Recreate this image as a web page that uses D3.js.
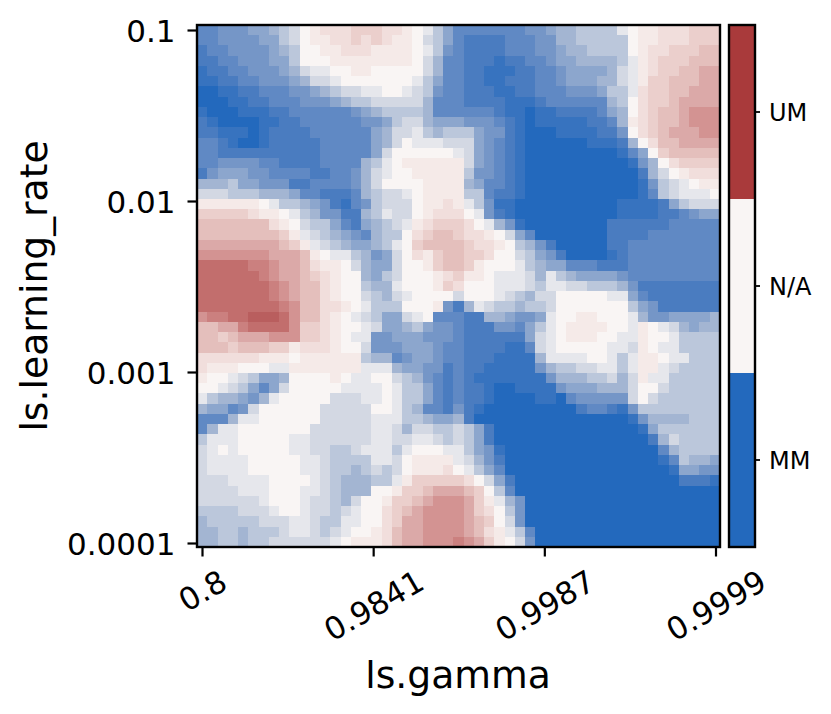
<!DOCTYPE html>
<html><head><meta charset="utf-8">
<style>html,body{margin:0;padding:0;background:#fff}svg{display:block}text{font-family:"DejaVu Sans",sans-serif;fill:#000}</style>
<script src="https://cdn.jsdelivr.net/npm/d3@7/dist/d3.min.js"></script>
</head><body><svg id="c" width="831" height="714"></svg>
<script>
const gammaTicks=["0.8","0.9841","0.9987","0.9999"];
const lrTicks=["0.1","0.01","0.001","0.0001"];
const legendCats=["MM","N/A","UM"];
const legendColors=["#2369bd","#f9f5f4","#a93a3b"];
const rampStops=[-10,-8,-6,-4,-2,0,2,4,5,6,7,8,9,10];
const rampColors=["#2369bd","#4a7cc0","#7596c7","#a3b5d2","#d3d8e3","#f9f5f4","#f1dedc","#e4bfbc","#dba9a8","#d39392","#cb807f","#c26e6d","#b95e5e","#a93a3b"];
const xTitle="ls.gamma", yTitle="ls.learning_rate";
// one row per learning-rate step, top to bottom; -10 = MM, 0 = N/A, 10 = UM
const heat=[
[-7,-7,-6,-6,-6,-5,-5,-4,-3,-2,0,1,2,2,2,3,3,3,2,2,1,0,-1,-3,-5,-7,-7,-7,-7,-7,-7,-7,-6,-6,-5,-4,-4,-3,-3,-3,-3,-1,0,1,1,2,2,2,3,3,3],
[-7,-7,-6,-6,-6,-6,-5,-5,-3,-2,0,1,1,2,2,3,2,3,2,1,1,0,-2,-3,-5,-7,-8,-8,-8,-8,-7,-7,-7,-6,-6,-4,-4,-3,-3,-3,-3,-3,0,1,1,2,2,2,3,3,3],
[-8,-7,-7,-6,-6,-6,-6,-5,-4,-3,0,0,1,1,2,2,2,1,1,1,1,0,-1,-3,-6,-7,-8,-8,-8,-8,-7,-7,-7,-6,-6,-5,-4,-4,-3,-3,-3,-3,0,1,2,2,3,3,3,4,4],
[-8,-8,-7,-7,-6,-6,-6,-5,-5,-3,0,0,0,1,1,1,1,1,1,1,1,0,-2,-4,-7,-7,-8,-8,-8,-9,-8,-8,-7,-7,-6,-5,-5,-4,-4,-4,-4,-3,-1,1,2,3,3,3,4,4,4],
[-9,-8,-8,-7,-7,-6,-6,-6,-5,-4,-2,-1,-1,0,0,1,1,0,0,0,0,0,-2,-4,-7,-7,-8,-8,-9,-9,-9,-8,-8,-7,-7,-6,-5,-5,-5,-5,-4,-2,-1,1,2,3,3,4,4,5,5],
[-9,-9,-8,-8,-7,-7,-6,-6,-6,-5,-4,-2,-2,-1,0,0,0,0,0,0,0,-1,-3,-5,-7,-7,-8,-8,-9,-9,-8,-8,-8,-7,-7,-6,-5,-5,-5,-4,-4,-2,-1,1,3,3,4,4,4,5,5],
[-10,-10,-9,-9,-8,-8,-7,-7,-7,-6,-6,-5,-4,-3,-2,-2,-1,-1,0,0,-1,-2,-3,-6,-7,-7,-8,-8,-8,-9,-9,-8,-8,-7,-7,-7,-6,-6,-6,-5,-3,-3,-1,2,3,3,4,4,5,5,5],
[-10,-10,-10,-9,-9,-8,-8,-7,-7,-7,-6,-6,-6,-5,-4,-3,-3,-2,-2,-2,-2,-2,-4,-7,-7,-7,-8,-8,-8,-8,-9,-9,-9,-8,-7,-7,-7,-7,-7,-7,-4,-3,0,2,3,3,4,5,5,5,5],
[-9,-10,-10,-10,-9,-9,-9,-8,-8,-7,-7,-7,-7,-7,-7,-6,-5,-4,-3,-3,-3,-3,-4,-7,-7,-7,-7,-7,-7,-8,-9,-9,-10,-9,-9,-8,-8,-8,-8,-7,-5,-4,0,2,3,4,4,5,6,6,6],
[-8,-9,-10,-10,-10,-10,-9,-9,-8,-8,-7,-7,-7,-7,-7,-7,-6,-6,-5,-3,-2,-2,-4,-5,-5,-5,-6,-6,-6,-7,-8,-9,-10,-9,-9,-9,-9,-9,-8,-8,-7,-4,1,2,3,4,4,5,6,6,6],
[-8,-8,-9,-9,-9,-10,-9,-8,-8,-8,-8,-7,-7,-7,-7,-7,-7,-5,-4,-2,-2,-1,-3,-4,-3,-3,-3,-5,-6,-6,-8,-9,-10,-10,-10,-9,-9,-9,-9,-8,-8,-6,0,2,3,4,5,5,5,6,6],
[-7,-7,-8,-9,-10,-10,-9,-8,-8,-8,-8,-8,-7,-7,-7,-7,-7,-5,-4,-2,0,-1,-1,-1,-2,-2,-2,-5,-6,-7,-8,-9,-10,-10,-10,-10,-10,-10,-9,-9,-9,-8,-4,0,2,4,4,5,5,5,5],
[-7,-7,-8,-8,-8,-8,-8,-8,-8,-8,-8,-8,-7,-7,-7,-7,-7,-5,-2,0,0,0,0,0,0,-1,-2,-5,-6,-7,-8,-9,-10,-10,-10,-10,-10,-10,-10,-10,-10,-9,-7,-5,0,3,4,4,4,4,4],
[-7,-7,-6,-6,-6,-6,-7,-7,-8,-8,-8,-8,-7,-7,-7,-7,-4,-3,-1,0,1,1,1,1,1,1,-2,-5,-6,-7,-8,-9,-10,-10,-10,-10,-10,-10,-10,-10,-10,-10,-9,-6,-4,0,2,3,3,3,3],
[-8,-6,-5,-5,-5,-6,-6,-7,-7,-7,-7,-8,-8,-7,-7,-6,-4,-2,-1,0,0,1,1,1,1,1,-3,-6,-6,-7,-8,-9,-10,-10,-10,-10,-10,-10,-10,-10,-10,-10,-10,-8,-4,-2,0,1,2,2,2],
[-4,-4,-4,-3,-5,-5,-6,-6,-6,-8,-8,-7,-7,-7,-7,-6,-4,-2,0,0,0,0,1,1,1,1,-4,-5,-7,-7,-8,-9,-10,-10,-10,-10,-10,-10,-10,-10,-10,-10,-10,-9,-6,-3,-2,-1,0,1,1],
[-2,-2,-2,-3,-3,-3,-4,-4,-4,-5,-7,-7,-8,-8,-8,-7,-4,-3,-2,-2,-1,0,1,1,1,1,-3,-3,-7,-8,-8,-9,-10,-10,-10,-10,-10,-10,-10,-10,-10,-10,-10,-9,-7,-3,-2,-1,-1,-1,0],
[1,1,1,1,1,1,0,-1,-3,-3,-4,-5,-6,-8,-9,-7,-6,-3,-2,-2,-2,0,1,1,2,1,-1,-3,-6,-9,-9,-10,-10,-10,-10,-10,-10,-10,-10,-10,-10,-9,-9,-9,-9,-8,-5,-3,-2,-2,-2],
[3,3,3,3,3,2,1,1,0,-1,-3,-4,-6,-6,-8,-8,-4,-3,-1,-2,-2,0,1,2,2,2,0,-1,-6,-8,-9,-10,-10,-10,-10,-10,-10,-10,-10,-10,-10,-9,-9,-9,-9,-8,-8,-7,-6,-5,-5],
[4,4,4,4,4,4,4,2,1,0,-2,-3,-3,-5,-7,-8,-5,-4,-3,-2,-1,1,2,3,3,3,2,0,-1,-4,-6,-9,-10,-10,-10,-10,-10,-10,-10,-10,-8,-8,-8,-8,-8,-8,-7,-7,-7,-7,-7],
[4,4,4,4,4,4,4,4,3,1,-1,-2,-3,-4,-5,-6,-7,-4,-3,-3,0,2,3,4,4,3,2,2,1,0,-2,-5,-7,-10,-10,-10,-10,-10,-10,-10,-8,-8,-8,-8,-7,-7,-7,-7,-7,-7,-7],
[5,5,5,5,5,5,5,5,4,3,1,-1,-2,-3,-4,-5,-5,-4,-3,-1,0,3,4,4,4,4,3,2,2,1,0,-3,-4,-6,-8,-10,-10,-10,-10,-10,-8,-8,-7,-7,-7,-7,-7,-7,-7,-7,-7],
[6,6,6,6,6,6,6,5,5,5,4,1,0,-1,-1,-3,-4,-6,-5,-2,0,2,1,3,4,4,3,3,2,0,0,-2,-3,-5,-6,-8,-10,-10,-10,-10,-9,-8,-7,-7,-7,-7,-7,-7,-7,-7,-7],
[8,8,8,8,8,7,7,6,5,5,4,2,1,1,0,-2,-4,-5,-5,-2,0,0,1,3,4,4,3,1,0,0,0,-1,-3,-4,-5,-5,-7,-7,-7,-8,-8,-8,-7,-7,-7,-7,-7,-7,-7,-7,-7],
[8,8,8,8,8,8,7,6,5,5,4,3,2,1,0,0,-4,-5,-3,-2,0,0,0,1,2,3,1,1,0,-1,-1,-1,-2,-4,-1,-3,-4,-5,-5,-5,-5,-6,-7,-7,-7,-7,-7,-7,-7,-7,-7],
[8,8,8,8,8,8,8,7,6,5,4,4,2,1,0,0,-3,-4,-4,-1,0,0,0,1,3,2,0,0,0,-1,-1,-1,-2,-3,-1,-1,-2,-2,-3,-3,-3,-4,-6,-8,-8,-8,-8,-8,-8,-8,-8],
[8,8,8,8,8,8,8,7,6,5,4,4,2,1,0,0,-2,-3,-4,-2,-1,0,0,0,0,-2,0,0,0,-1,-2,-3,-4,-2,-2,0,0,0,0,0,-1,-1,-5,-7,-8,-8,-8,-8,-8,-8,-8],
[8,8,8,8,8,8,8,8,7,6,4,4,2,2,1,0,-1,-3,-3,-3,0,0,0,1,-6,-8,-4,-1,-2,-3,-3,-4,-3,-3,-2,0,0,0,0,0,0,0,-3,-5,-6,-8,-8,-8,-8,-8,-8],
[6,7,7,8,8,9,9,9,8,6,4,4,2,1,0,-1,-2,-3,-5,-5,-2,-1,0,-7,-7,-7,-8,-8,-4,-4,-5,-6,-6,-5,-1,0,0,1,1,0,0,0,-1,-4,-6,-6,-5,-5,-5,-5,-4],
[4,4,5,5,7,8,8,8,8,6,3,3,2,1,0,0,-1,-2,-5,-5,-4,-3,-5,-6,-6,-7,-8,-8,-8,-6,-6,-7,-5,-3,-1,0,1,1,1,1,0,0,-1,1,0,-1,-2,-4,-5,-4,-4],
[4,4,3,4,5,5,5,6,6,6,3,3,2,1,0,-1,-1,-6,-6,-5,-5,-5,-6,-6,-6,-7,-8,-8,-8,-8,-8,-8,-5,-2,-1,0,1,1,1,0,0,-1,-1,1,0,0,-1,-3,-3,-3,-3],
[4,4,4,3,4,4,4,3,3,1,2,2,2,1,0,0,-2,-6,-6,-6,-5,-5,-5,-6,-7,-7,-8,-8,-8,-8,-9,-9,-7,-2,-1,0,0,0,0,0,-1,-1,-2,1,0,-1,-1,-3,-3,-3,-3],
[2,2,2,2,2,2,1,1,1,0,1,1,1,1,1,1,-3,-4,-4,-7,-6,-5,-5,-6,-7,-7,-8,-8,-8,-9,-9,-9,-9,-4,-1,-1,-1,-1,0,0,-1,-3,-1,1,1,0,-1,-1,-3,-3,-3],
[2,1,1,1,0,0,0,-1,-1,1,1,1,1,1,1,1,-1,-1,-1,-4,-5,-5,-6,-6,-8,-7,-8,-8,-9,-9,-9,-9,-9,-6,-4,-3,-3,-2,-2,-1,-1,-3,-1,1,1,-1,-2,-3,-3,-3,-3],
[1,0,0,-1,-2,-3,-5,-5,-4,0,0,0,0,1,0,-1,-1,0,0,-2,-3,-4,-6,-7,-8,-7,-8,-9,-9,-9,-9,-9,-9,-9,-6,-4,-4,-4,-3,-3,-2,-4,-2,1,-1,-1,-3,-3,-3,-3,-3],
[0,0,-1,-2,-3,-5,-7,-5,-2,0,0,0,0,0,-1,-1,-1,-1,0,-1,-3,-3,-5,-7,-8,-7,-8,-8,-9,-10,-10,-9,-9,-9,-9,-6,-5,-5,-5,-4,-4,-4,-2,0,0,-2,-3,-3,-3,-3,-3],
[-1,-3,-4,-4,-5,-6,-4,-1,0,0,0,0,0,-2,-2,-2,-1,-1,0,-1,-3,-3,-5,-7,-8,-7,-8,-8,-9,-10,-10,-10,-10,-9,-9,-10,-7,-6,-6,-6,-6,-6,-2,0,-2,-3,-3,-3,-3,-3,-3],
[-4,-5,-5,-7,-6,-2,0,0,0,0,0,0,-2,-2,-2,-2,-2,0,0,-1,-3,-4,-7,-7,-8,-6,-8,-9,-10,-10,-10,-10,-10,-10,-10,-10,-10,-8,-7,-7,-8,-9,-6,-3,-3,-3,-3,-3,-3,-3,-3],
[-7,-7,-7,-4,-1,-1,0,0,0,0,0,0,-2,-2,-2,-2,-2,-1,-1,-1,-3,-3,-4,-5,-5,-4,-8,-10,-10,-10,-10,-10,-10,-10,-10,-10,-10,-10,-10,-10,-10,-10,-9,-6,-4,-4,-4,-4,-3,-3,-3],
[-7,-4,-1,-1,0,0,0,0,0,0,0,-2,-2,-2,-2,-2,-2,-1,-1,-2,-4,-2,-2,-3,-3,-2,-3,-5,-8,-10,-10,-10,-10,-10,-10,-10,-10,-10,-10,-10,-10,-10,-10,-9,-5,-3,-3,-3,-3,-3,-3],
[-3,-1,-1,-1,0,0,0,0,0,-1,-1,-2,-2,-2,-2,-2,-2,-1,-1,-2,-2,-1,-1,-2,-3,-2,-3,-5,-8,-10,-10,-10,-10,-10,-10,-10,-10,-10,-10,-10,-10,-10,-10,-10,-8,-4,-2,-3,-3,-3,-3],
[-2,-1,0,-1,0,0,0,0,0,-1,-1,-2,-2,-3,-3,-2,-1,-1,-1,-3,-1,0,0,0,-1,-1,-3,-5,-6,-9,-10,-10,-10,-10,-10,-10,-10,-10,-10,-10,-10,-10,-10,-10,-10,-7,-4,-3,-3,-3,-3],
[-2,-1,-1,-1,-1,0,0,0,0,0,-1,-1,-2,-3,-3,-3,-3,-1,-1,-2,0,1,1,1,1,-1,-2,-4,-6,-8,-10,-10,-10,-10,-10,-10,-10,-10,-10,-10,-10,-10,-10,-10,-10,-9,-7,-3,-4,-4,-5],
[-2,-1,-1,-1,-1,0,0,0,0,0,-1,-1,-2,-3,-3,-4,-3,-2,-3,-2,0,1,1,1,2,0,-1,-3,-5,-7,-10,-10,-10,-10,-10,-10,-10,-10,-10,-10,-10,-10,-10,-10,-10,-10,-9,-5,-5,-6,-6],
[-2,-2,-2,-1,-1,-1,-1,0,0,0,0,-1,-2,-3,-4,-4,-4,-3,-3,-1,1,3,3,3,3,3,2,0,-2,-5,-8,-10,-10,-10,-10,-10,-10,-10,-10,-10,-10,-10,-10,-10,-10,-10,-10,-8,-8,-8,-9],
[-2,-2,-2,-2,-1,-1,-1,0,0,0,-1,-1,-2,-3,-4,-4,-4,0,0,1,3,3,4,5,5,5,4,3,0,-3,-7,-10,-10,-10,-10,-10,-10,-10,-10,-10,-10,-10,-10,-10,-10,-10,-10,-10,-10,-10,-10],
[-2,-2,-2,-2,-2,-2,-1,0,0,0,-1,-2,-2,-3,-4,-2,0,0,1,3,3,4,5,6,6,6,5,3,1,-1,-4,-6,-10,-10,-10,-10,-10,-10,-10,-10,-10,-10,-10,-10,-10,-10,-10,-10,-10,-10,-10],
[-3,-3,-3,-3,-2,-2,-2,-1,0,0,-1,-2,-2,-3,-2,-1,0,0,2,3,4,5,6,6,6,6,5,3,2,0,-3,-6,-10,-10,-10,-10,-10,-10,-10,-10,-10,-10,-10,-10,-10,-10,-10,-10,-10,-10,-10],
[-4,-3,-3,-3,-3,-3,-2,-2,-2,-1,-1,-2,-3,-3,-1,-1,0,0,2,3,5,5,6,6,6,6,5,4,3,0,-2,-6,-10,-10,-10,-10,-10,-10,-10,-10,-10,-10,-10,-10,-10,-10,-10,-10,-10,-10,-10],
[-4,-4,-3,-3,-4,-3,-3,-3,-2,-1,-1,-2,-3,-2,-1,0,0,1,2,4,5,5,6,6,6,6,5,4,2,1,-1,-3,-7,-10,-10,-10,-10,-10,-10,-10,-10,-10,-10,-10,-10,-10,-10,-10,-10,-10,-10],
[-4,-4,-3,-3,-4,-3,-3,-2,-2,-2,-2,-2,-2,-1,0,1,1,1,2,4,5,5,6,6,6,7,6,5,3,1,0,-2,-6,-10,-10,-10,-10,-10,-10,-10,-10,-10,-10,-10,-10,-10,-10,-10,-10,-10,-10]
];

const svg=d3.select("#c");
const plot={left:197,right:720,top:25,bottom:547};
const color=d3.scaleLinear().domain(rampStops).range(rampColors);
const idx=d3.range(heat.length);
const xCell=d3.scaleBand().domain(idx).range([plot.left,plot.right]);
const yCell=d3.scaleBand().domain(idx).range([plot.top,plot.bottom]);
svg.append("g").selectAll("g").data(heat).join("g")
  .attr("transform",(d,i)=>`translate(0,${yCell(i)})`)
  .selectAll("rect").data(d=>d).join("rect")
  .attr("x",(d,i)=>xCell(i)).attr("width",xCell.bandwidth()+.5)
  .attr("height",yCell.bandwidth()+.5).attr("fill",d=>color(d))
  .attr("shape-rendering","crispEdges");
svg.append("rect").attr("x",plot.left).attr("y",plot.top).attr("width",plot.right-plot.left).attr("height",plot.bottom-plot.top)
  .attr("fill","none").attr("stroke","#000").attr("stroke-width",2.4);

const fs=31;
const xT=d3.scalePoint().domain(gammaTicks).range([202,715.5]);
const yT=d3.scalePoint().domain(lrTicks).range([30,543]);
const ax=svg.append("g").attr("transform",`translate(0,${plot.bottom})`).call(d3.axisBottom(xT).tickSize(9.5).tickSizeOuter(0));
const ay=svg.append("g").attr("transform",`translate(${plot.left},0)`).call(d3.axisLeft(yT).tickSize(9.5).tickPadding(12).tickSizeOuter(0));
[ax,ay].forEach(a=>{a.select(".domain").remove();a.selectAll("line").attr("stroke","#000").attr("stroke-width",2.2);
  a.selectAll("text").attr("fill","#000").style("font-family",'"DejaVu Sans"').style("font-size",fs+"px");});
ay.selectAll("text").attr("dy","0.36em");
ax.selectAll("text").each(function(){
  const w=this.getComputedTextLength();
  const h=fs*0.76;
  const cy=21+(w*0.5+h*0.866)/2;
  d3.select(this).attr("x",0).attr("y",0).attr("dy","0.36em").attr("text-anchor","middle")
    .attr("transform",`translate(0,${cy}) rotate(-30)`);
});
svg.append("text").attr("x",458).attr("y",688).attr("text-anchor","middle").style("font-size","37.7px").text(xTitle);
svg.append("text").attr("transform","translate(47,286) rotate(-90)").attr("text-anchor","middle").style("font-size","37.7px").text(yTitle);

const cb={left:729,right:755};
const yCb=d3.scaleBand().domain(legendCats).range([plot.bottom,plot.top]);
svg.append("g").selectAll("rect").data(legendCats).join("rect")
  .attr("x",cb.left).attr("width",cb.right-cb.left).attr("y",d=>yCb(d)).attr("height",yCb.bandwidth())
  .attr("fill",(d,i)=>legendColors[i]);
svg.append("rect").attr("x",cb.left).attr("y",plot.top).attr("width",cb.right-cb.left).attr("height",plot.bottom-plot.top)
  .attr("fill","none").attr("stroke","#000").attr("stroke-width",2.4);
const ac=svg.append("g").attr("transform",`translate(${cb.right},0)`).call(d3.axisRight(yCb).tickSize(5).tickPadding(9).tickSizeOuter(0));
ac.select(".domain").remove();
ac.selectAll("line").attr("stroke","#000").attr("stroke-width",1.8);
ac.selectAll("text").attr("fill","#000").attr("dy","0.36em").style("font-family",'"DejaVu Sans"').style("font-size","24px");
</script></body></html>
